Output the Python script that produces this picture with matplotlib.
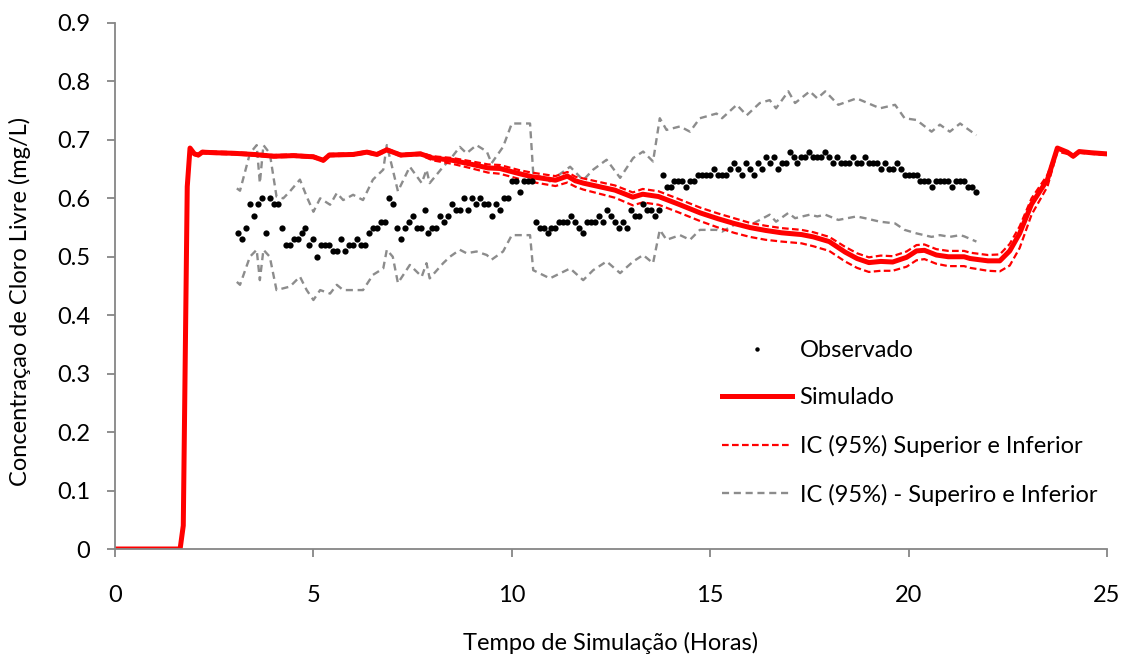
import numpy as np
import matplotlib
matplotlib.use("Agg")
import matplotlib.pyplot as plt
from matplotlib.lines import Line2D

plt.rcParams['font.family'] = ['Lato', 'DejaVu Sans']

## Observed values (every 0.1 h from 3.1 h to 21.7 h)
obs_t = np.round(np.arange(3.1, 21.75, 0.1), 2)
obs = [0.54, 0.53, 0.55, 0.59, 0.57, 0.59, 0.60, 0.54, 0.60, 0.59,
       0.59, 0.55, 0.52, 0.52, 0.53, 0.53, 0.54, 0.55, 0.52, 0.53,
       0.50, 0.52, 0.52, 0.52, 0.51, 0.51, 0.53, 0.51, 0.52, 0.52,
       0.53, 0.52, 0.52, 0.54, 0.55, 0.55, 0.56, 0.56, 0.60, 0.59,
       0.55, 0.53, 0.55, 0.56, 0.57, 0.55, 0.55, 0.58, 0.54, 0.55,
       0.55, 0.57, 0.56, 0.57, 0.59, 0.58, 0.58, 0.60, 0.58, 0.60,
       0.59, 0.60, 0.59, 0.59, 0.57, 0.59, 0.58, 0.60, 0.60, 0.63,
       0.63, 0.61, 0.63, 0.63, 0.63, 0.56, 0.55, 0.55, 0.54, 0.55,
       0.55, 0.56, 0.56, 0.56, 0.57, 0.56, 0.55, 0.54, 0.56, 0.56,
       0.56, 0.57, 0.56, 0.58, 0.57, 0.56, 0.55, 0.56, 0.55, 0.58,
       0.57, 0.57, 0.59, 0.58, 0.58, 0.57, 0.58, 0.64, 0.62, 0.62,
       0.63, 0.63, 0.63, 0.62, 0.63, 0.63, 0.64, 0.64, 0.64, 0.64,
       0.65, 0.64, 0.64, 0.64, 0.65, 0.66, 0.65, 0.64, 0.66, 0.65,
       0.64, 0.66, 0.65, 0.67, 0.66, 0.67, 0.65, 0.66, 0.66, 0.68,
       0.67, 0.66, 0.67, 0.67, 0.68, 0.67, 0.67, 0.67, 0.68, 0.67,
       0.66, 0.67, 0.66, 0.66, 0.66, 0.67, 0.66, 0.66, 0.67, 0.66,
       0.66, 0.66, 0.65, 0.66, 0.65, 0.65, 0.66, 0.65, 0.64, 0.64,
       0.64, 0.64, 0.63, 0.63, 0.63, 0.62, 0.63, 0.63, 0.63, 0.63,
       0.62, 0.63, 0.63, 0.63, 0.62, 0.62, 0.61]

## Simulated curve with its 95% interval
sim_t = [0, 1.64, 1.72, 1.82, 1.89, 2.0, 2.1, 2.2, 2.5, 3.0, 3.5, 4.0, 4.5, 5.0,
         5.25, 5.4, 6.0, 6.35, 6.6, 6.85, 7.2, 7.7, 8.0, 8.5, 9.0, 9.4, 9.7,
         10.2, 10.5, 11.1, 11.4, 11.6, 11.8, 12.2, 12.6, 13.05, 13.3, 13.7,
         14.2, 14.75, 15.2, 15.6, 16.0, 16.4, 16.8, 17.3, 17.6, 18.0, 18.4,
         18.7, 19.0, 19.3, 19.6, 19.95, 20.2, 20.4, 20.7, 21.0, 21.4, 21.55,
         22.0, 22.3, 22.55, 22.8, 23.1, 23.5, 23.75, 24.0, 24.15, 24.3, 24.6, 25.0]
sim = [0, 0, 0.04, 0.62, 0.686, 0.676, 0.674, 0.679, 0.678, 0.677, 0.675, 0.672,
       0.673, 0.671, 0.665, 0.674, 0.675, 0.679, 0.675, 0.683, 0.674, 0.676,
       0.669, 0.665, 0.658, 0.652, 0.651, 0.642, 0.637, 0.631, 0.638, 0.630,
       0.626, 0.620, 0.614, 0.602, 0.607, 0.603, 0.590, 0.575, 0.565, 0.557,
       0.550, 0.545, 0.541, 0.538, 0.534, 0.526, 0.508, 0.497, 0.490, 0.492,
       0.491, 0.499, 0.510, 0.511, 0.503, 0.500, 0.500, 0.497, 0.493, 0.493,
       0.510, 0.540, 0.590, 0.632, 0.686, 0.679, 0.672, 0.680, 0.678, 0.676]
sim_up = [0, 0, 0.04, 0.62, 0.686, 0.678, 0.676, 0.681, 0.680, 0.679, 0.677, 0.674,
          0.675, 0.673, 0.667, 0.676, 0.677, 0.681, 0.677, 0.685, 0.676, 0.678,
          0.672, 0.669, 0.663, 0.658, 0.657, 0.648, 0.644, 0.638, 0.645, 0.637,
          0.634, 0.628, 0.622, 0.610, 0.616, 0.612, 0.599, 0.584, 0.574, 0.566,
          0.558, 0.553, 0.549, 0.546, 0.542, 0.534, 0.517, 0.506, 0.499, 0.502,
          0.501, 0.509, 0.520, 0.521, 0.513, 0.510, 0.510, 0.507, 0.503, 0.504,
          0.522, 0.552, 0.600, 0.640, 0.686, 0.680, 0.674, 0.681, 0.679, 0.677]
sim_lo = [0, 0, 0.04, 0.61, 0.684, 0.674, 0.672, 0.677, 0.676, 0.675, 0.673, 0.670,
          0.671, 0.669, 0.663, 0.672, 0.673, 0.677, 0.673, 0.681, 0.672, 0.674,
          0.665, 0.659, 0.651, 0.644, 0.642, 0.633, 0.628, 0.621, 0.627, 0.620,
          0.615, 0.608, 0.601, 0.588, 0.593, 0.589, 0.576, 0.561, 0.550, 0.541,
          0.534, 0.529, 0.526, 0.523, 0.518, 0.510, 0.492, 0.481, 0.474, 0.476,
          0.476, 0.483, 0.494, 0.496, 0.488, 0.484, 0.484, 0.481, 0.476, 0.475,
          0.485, 0.515, 0.572, 0.620, 0.680, 0.676, 0.670, 0.678, 0.676, 0.674]

## Grey interval around the observations
ic_t = [3.07, 3.15, 3.4, 3.57, 3.65, 3.74, 3.9, 4.07, 4.24, 4.41, 4.66, 4.83, 5.0,
        5.17, 5.42, 5.59, 5.75, 6.0, 6.25, 6.5, 6.76, 6.85, 7.0, 7.13, 7.43, 7.73,
        7.85, 7.93, 8.27, 8.44, 8.69, 8.86, 9.11, 9.37, 9.49, 9.78, 10.0, 10.46,
        10.54, 10.96, 11.47, 11.8, 12.05, 12.39, 12.73, 13.06, 13.31, 13.56, 13.73,
        13.9, 14.24, 14.49, 14.74, 15.16, 15.3, 15.67, 15.92, 16.25, 16.5, 16.66,
        16.97, 17.14, 17.51, 17.7, 17.9, 18.23, 18.69, 18.9, 19.28, 19.66, 19.9,
        20.2, 20.58, 20.79, 21.04, 21.3, 21.4, 21.71]
ic_up = [0.617, 0.613, 0.677, 0.691, 0.626, 0.691, 0.677, 0.603, 0.600, 0.612,
         0.632, 0.603, 0.577, 0.600, 0.589, 0.609, 0.597, 0.606, 0.597, 0.632,
         0.649, 0.691, 0.649, 0.612, 0.654, 0.626, 0.649, 0.626, 0.654, 0.666,
         0.688, 0.677, 0.691, 0.680, 0.660, 0.688, 0.728, 0.728, 0.643, 0.629,
         0.654, 0.631, 0.649, 0.666, 0.635, 0.669, 0.680, 0.663, 0.737, 0.717,
         0.723, 0.714, 0.737, 0.745, 0.737, 0.760, 0.742, 0.763, 0.768, 0.754,
         0.783, 0.763, 0.783, 0.771, 0.783, 0.760, 0.771, 0.765, 0.754, 0.760,
         0.737, 0.734, 0.714, 0.726, 0.714, 0.728, 0.723, 0.708]
ic_lo = [0.457, 0.452, 0.500, 0.512, 0.460, 0.512, 0.500, 0.443, 0.446, 0.449,
         0.466, 0.443, 0.426, 0.443, 0.437, 0.452, 0.443, 0.443, 0.443, 0.469,
         0.480, 0.512, 0.500, 0.455, 0.486, 0.466, 0.489, 0.463, 0.489, 0.500,
         0.512, 0.506, 0.509, 0.503, 0.495, 0.509, 0.537, 0.537, 0.477, 0.463,
         0.480, 0.460, 0.477, 0.492, 0.472, 0.492, 0.503, 0.489, 0.546, 0.529,
         0.537, 0.529, 0.546, 0.546, 0.543, 0.557, 0.551, 0.563, 0.572, 0.560,
         0.575, 0.566, 0.572, 0.569, 0.572, 0.563, 0.569, 0.566, 0.560, 0.557,
         0.546, 0.540, 0.534, 0.537, 0.534, 0.537, 0.535, 0.526]

fig = plt.figure(figsize=(11.3, 6.56), dpi=100)
ax = fig.add_axes([0.1018, 0.1631, 0.8778, 0.8019])

gray = '#8c8c8c'
ax.plot(ic_t, ic_up, color=gray, lw=1.7, ls=(0, (3, 2)))
ax.plot(ic_t, ic_lo, color=gray, lw=1.7, ls=(0, (3, 2)))
ax.plot(sim_t, sim_up, color='red', lw=1.6, ls=(0, (3, 1.5)))
ax.plot(sim_t, sim_lo, color='red', lw=1.6, ls=(0, (3, 1.5)))
ax.plot(sim_t, sim, color='red', lw=3.6, solid_joinstyle='round')
ax.plot(obs_t, obs, 'o', color='black', ms=4.5, mec='none')

ax.set_xlim(0, 25)
ax.set_ylim(0, 0.9)
ax.set_xticks(range(0, 26, 5))
ax.set_yticks(np.arange(0, 0.91, 0.1))
ax.set_yticklabels(['0'] + ['%.1f' % v for v in np.arange(0.1, 0.91, 0.1)])
for s in ['top', 'right']:
    ax.spines[s].set_visible(False)
for s in ['left', 'bottom']:
    ax.spines[s].set_color('#868686')
    ax.spines[s].set_linewidth(1.3)
ax.tick_params(colors='#868686', labelcolor='black', labelsize=17, length=6, width=1.3)
ax.tick_params(axis='y', pad=12)
ax.tick_params(axis='x', pad=20)
ax.set_xlabel('Tempo de Simulação (Horas)', fontsize=17)
ax.set_ylabel('Concentraçao de Cloro Livre (mg/L)', fontsize=17)
ax.xaxis.set_label_coords(0.5, -0.179)
ax.xaxis.label.set_va('center')
ax.yaxis.set_label_coords(-0.0958, 0.47)
ax.yaxis.label.set_va('center')

handles = [Line2D([], [], ls='none', marker='o', color='black', ms=3.2, mec='none'),
           Line2D([], [], color='red', lw=3.6),
           Line2D([], [], color='red', lw=1.6, ls=(0, (3, 1.5))),
           Line2D([], [], color=gray, lw=1.7, ls=(0, (3, 2)))]
labels = ['Observado', 'Simulado', 'IC (95%) Superior e Inferior',
          'IC (95%) - Superiro e Inferior']
fig.legend(handles, labels, loc='upper left', bbox_to_anchor=(722 / 1130, 1 - 340 / 656),
           frameon=False, fontsize=17, handlelength=2.95, handletextpad=0.34,
           labelspacing=1.12, borderpad=0, borderaxespad=0, numpoints=1)

fig.savefig('out.png', dpi=100)
